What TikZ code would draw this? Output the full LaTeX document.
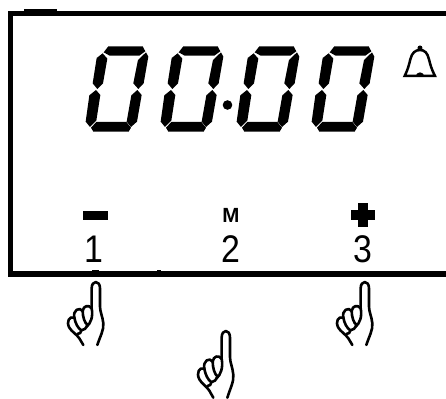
\documentclass[tikz,border=0pt]{standalone}
\usepackage{fontspec}
\setmainfont{Liberation Sans}
\newcommand{\lcdDigit}[1]{%
\begin{scope}[shift={(#1,30)},x=0.3333pt,y=-0.3333pt]
\fill (71,67)--(85,49)--(188,49)--(196,64)--(178,77)--(89,77)--cycle;
\fill (198,67)--(205,80)--(191,160)--(175,177)--(160,160)--(174,90)--cycle;
\fill (68,70)--(82,86)--(69,160)--(52,177)--(38,160)--(50,84)--cycle;
\fill (48,180)--(61,195)--(49,272)--(30,291)--(17,275)--(28,196)--cycle;
\fill (172,180)--(185,195)--(171,275)--(153,291)--(140,275)--(154,196)--cycle;
\fill (33,293)--(49,276)--(139,276)--(153,293)--(146,305)--(40,305)--cycle;
\end{scope}}
\newcommand{\handShape}[3]{%
\begin{scope}[shift={(#1,#2)},x=0.3333pt,y=-#3*0.3333pt,line width=2.6pt,line join=round,line cap=round]
\draw (172,210) .. controls (180,185) and (192,165) .. (190,145) .. controls (188,125) and (180,110) .. (180,95) -- (180,40) .. controls (180,15) and (155,15) .. (155,40) -- (155,100) .. controls (160,125) and (152,145) .. (140,155);
\draw (155,100) .. controls (146,88) and (130,92) .. (128,108) .. controls (118,94) and (98,106) .. (103,128) .. controls (88,122) and (78,140) .. (88,158) .. controls (95,170) and (110,178) .. (118,190) -- (130,210);
\draw (128,108) .. controls (128,125) and (134,145) .. (143,150);
\draw (103,128) .. controls (106,145) and (114,160) .. (124,166);
\draw (112,177) .. controls (120,178) and (123,172) .. (124,166) .. controls (133,166) and (138,160) .. (142,150);
\end{scope}}
\begin{document}
\begin{tikzpicture}[x=1pt,y=-1pt,
  barline/.style={fill=black},
  numlabel/.style={inner sep=0pt,font=\fontsize{38.5}{38.5}\selectfont,xscale=0.88,transform shape},
  belloutline/.style={line width=2.5pt,line join=miter}]
\useasboundingbox (0,0) rectangle (446,398);
% frame
\fill[barline] (8,11) rectangle (446,16.5);
\fill[barline] (24,9.3) rectangle (57,12);
\fill[barline] (8,11) rectangle (13,276.7);
\fill[barline] (8,271) rectangle (446,276.7);
\fill[barline] (92,270) rectangle (99,272);
\fill[barline] (157,270) rectangle (161,272);
% digits
\lcdDigit{80}
\lcdDigit{155}
\lcdDigit{231}
\lcdDigit{306}
\fill (227.5,105) circle (4.8pt);
% bell
\begin{scope}[shift={(250,30)},x=0.3333pt,y=-0.3333pt]
\draw[belloutline] (464,138) -- (555,138) .. controls (545,118) and (541,105) .. (537,88) .. controls (532,68) and (524,60) .. (510,60) .. controls (496,60) and (486,68) .. (481,88) .. controls (477,105) and (473,120) .. (464,138) -- cycle;
\fill (510,54) circle (2.5pt);
\fill (497,140) arc[start angle=180,end angle=360,radius=13];
\end{scope}
% labels
\fill (83.3,210.7) rectangle (108,220);
\node[inner sep=0pt,font=\bfseries\fontsize{20.5}{20.5}\selectfont] (m) at (231,215.7) {M};
\fill (358.3,203.3) rectangle (367.7,227.3);
\fill (351,210) rectangle (375.3,220);
\node[numlabel,anchor=base] (one) at (94,262.7) {1};
\node[numlabel,anchor=base] (two) at (230.7,262.7) {2};
\node[numlabel,anchor=base] (three) at (362.7,262.7) {3};
% hands
\handShape{40}{275}{1}
\handShape{170}{323.5}{1.06}
\handShape{309}{275}{1}
\end{tikzpicture}
\end{document}
